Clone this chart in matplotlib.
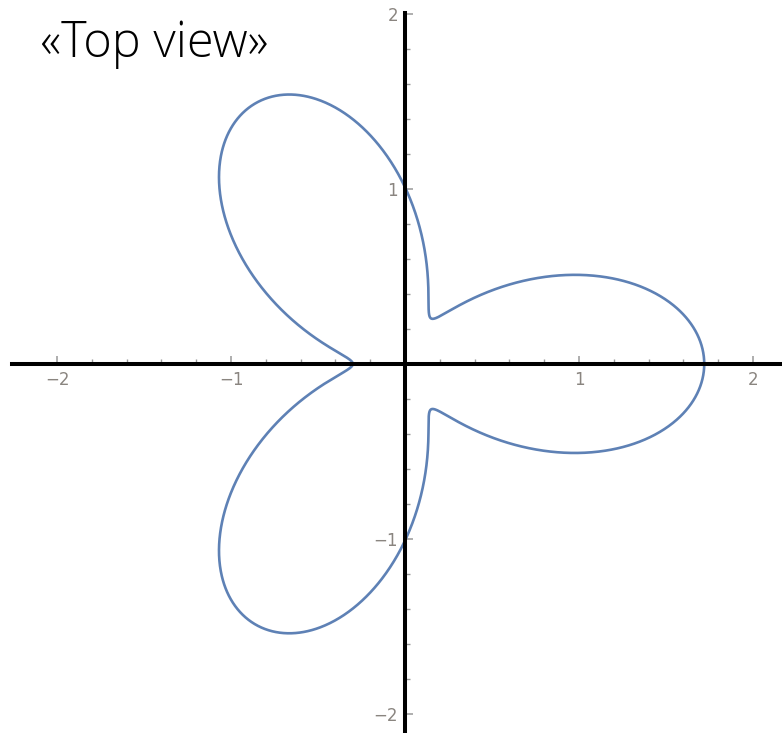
import matplotlib.pyplot as plt
import numpy as np

# three-lobed polar curve r = base + amp * cos(k * theta)
lobe_count = 3
base_radius = 1.01
lobe_amplitude = 0.71

major_ticks = [-2, -1, 1, 2]
minor_ticks = [v / 5 for v in range(-10, 11) if v % 5 != 0]

theta = np.linspace(0, 2 * np.pi, 3000)
r = base_radius + lobe_amplitude * np.cos(lobe_count * theta)
x = r * np.cos(theta)
y = r * np.sin(theta)

fig = plt.figure(figsize=(7.82, 7.33), dpi=100)
ax = fig.add_axes([12 / 782, 0, 770 / 782, 720 / 733])

ax.plot(x, y, color='#5E81B5', lw=1.9, solid_capstyle='round')

ax.set_xlim(-2.259, 2.167)
ax.set_ylim(-2.11, 2.006)

for side in ['top', 'right']:
    ax.spines[side].set_visible(False)
for side in ['left', 'bottom']:
    ax.spines[side].set_position(('data', 0))
    ax.spines[side].set_linewidth(2.9)
    ax.spines[side].set_color('black')

ax.set_xticks(major_ticks)
ax.set_yticks(major_ticks)
ax.set_xticks(minor_ticks, minor=True)
ax.set_yticks(minor_ticks, minor=True)
ax.set_xticklabels(['\u22122', '\u22121', '1', '2'])
ax.set_yticklabels(['\u22122', '\u22121', '1', '2'])
ax.tick_params(which='major', direction='in', length=6, width=1.1,
               color='#999999', labelcolor='#8a8580', labelsize=12, pad=5)
ax.tick_params(which='minor', direction='in', length=3.5, width=1.0,
               color='#999999')

fig.text(40 / 782, 1 - 44 / 733, '\u00abTop view\u00bb', fontsize=35,
         family=['Open Sans', 'DejaVu Sans'], fontweight='light',
         va='center', ha='left')

fig.savefig('out.png', dpi=100)
